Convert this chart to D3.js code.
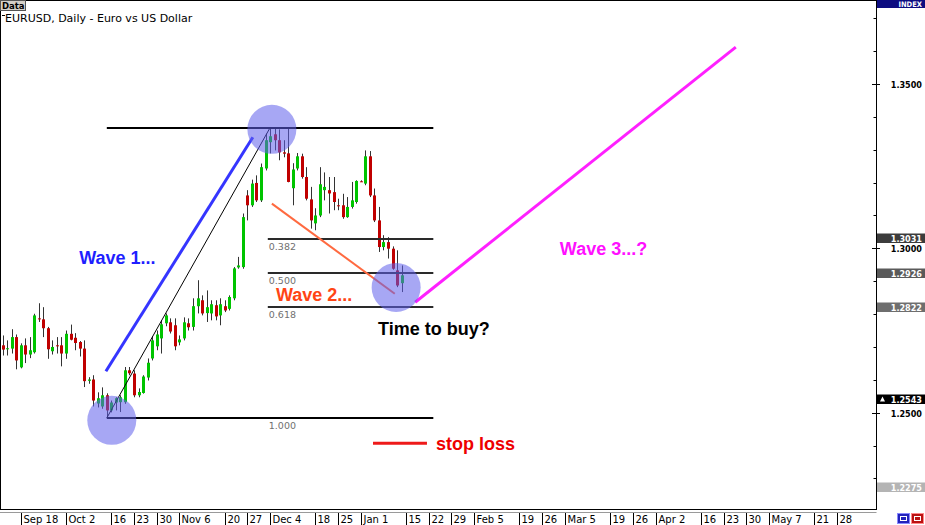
<!DOCTYPE html>
<html><head><meta charset="utf-8">
<script src="https://cdn.jsdelivr.net/npm/d3@7"></script>
<style>body{margin:0;background:#fff}svg{display:block}</style>
</head><body>
<svg id="c" width="925" height="525"></svg>
<script>
// ---------- data ----------
const startDate = "2006-09-12";
const totalSlots = 194; // weekdays shown on the time axis
const opens  = [1.2705,1.2693,1.2695,1.2730,1.2638,1.2705,1.2677,1.2684,1.2787,1.2784,1.2757,1.2687,1.2705,1.2705,1.2680,1.2740,1.2728,1.2715,1.2695,1.2597,1.2601,1.2528,1.2519,1.2553,1.2507,1.2531,1.2532,1.2532,1.2629,1.2619,1.2553,1.2560,1.2607,1.2665,1.2702,1.2726,1.2772,1.2775,1.2766,1.2714,1.2726,1.2772,1.2761,1.2824,1.2842,1.2803,1.2802,1.2827,1.2796,1.2824,1.2816,1.2848,1.2942,1.2943,1.3161,1.3131,1.3199,1.3146,1.3243,1.3323,1.3347,1.3329,1.3292,1.3289,1.3183,1.3243,1.3280,1.3217,1.3149,1.3076,1.3100,1.3177,1.3177,1.3171,1.3131,1.3131,1.3095,1.3126,1.3141,1.3204,1.3197,1.3280,1.3161,1.3085,1.3004,1.3019,1.2999,1.2933,1.2894];
const highs  = [1.2735,1.2720,1.2754,1.2738,1.2711,1.2726,1.2730,1.2801,1.2833,1.2821,1.2761,1.2720,1.2730,1.2730,1.2750,1.2768,1.2742,1.2718,1.2720,1.2608,1.2614,1.2562,1.2577,1.2559,1.2537,1.2547,1.2553,1.2639,1.2639,1.2629,1.2574,1.2614,1.2665,1.2732,1.2750,1.2781,1.2802,1.2787,1.2787,1.2735,1.2790,1.2787,1.2848,1.2903,1.2857,1.2872,1.2842,1.2842,1.2848,1.2842,1.2857,1.2943,1.2974,1.3106,1.3177,1.3209,1.3222,1.3258,1.3349,1.3367,1.3364,1.3362,1.3329,1.3365,1.3259,1.3290,1.3288,1.3247,1.3187,1.3122,1.3247,1.3231,1.3217,1.3217,1.3151,1.3166,1.3156,1.3202,1.3207,1.3207,1.3298,1.3296,1.3182,1.3126,1.3040,1.3034,1.3006,1.2994,1.2948];
const lows   = [1.2674,1.2674,1.2680,1.2632,1.2635,1.2651,1.2666,1.2680,1.2776,1.2730,1.2664,1.2677,1.2680,1.2641,1.2664,1.2720,1.2690,1.2671,1.2578,1.2588,1.2519,1.2516,1.2512,1.2484,1.2501,1.2507,1.2502,1.2527,1.2614,1.2547,1.2547,1.2558,1.2598,1.2659,1.2690,1.2680,1.2763,1.2741,1.2690,1.2705,1.2720,1.2750,1.2750,1.2802,1.2796,1.2776,1.2781,1.2781,1.2766,1.2806,1.2811,1.2842,1.2938,1.2938,1.3085,1.3126,1.3141,1.3141,1.3237,1.3289,1.3298,1.3268,1.3277,1.3201,1.3131,1.3237,1.3212,1.3146,1.3060,1.3055,1.3095,1.3146,1.3106,1.3116,1.3116,1.3090,1.3093,1.3121,1.3136,1.3202,1.3192,1.3156,1.3080,1.2989,1.2994,1.2969,1.2935,1.2882,1.2867];
const closes = [1.2692,1.2696,1.2730,1.2659,1.2705,1.2677,1.2690,1.2796,1.2785,1.2757,1.2693,1.2700,1.2703,1.2680,1.2740,1.2722,1.2712,1.2695,1.2596,1.2601,1.2537,1.2544,1.2553,1.2507,1.2531,1.2544,1.2547,1.2629,1.2620,1.2553,1.2563,1.2610,1.2652,1.2720,1.2738,1.2769,1.2796,1.2747,1.2702,1.2723,1.2775,1.2760,1.2824,1.2848,1.2802,1.2821,1.2830,1.2793,1.2830,1.2811,1.2852,1.2939,1.2948,1.3095,1.3131,1.3197,1.3146,1.3247,1.3329,1.3341,1.3329,1.3292,1.3288,1.3202,1.3240,1.3280,1.3217,1.3151,1.3085,1.3100,1.3195,1.3187,1.3167,1.3141,1.3129,1.3095,1.3126,1.3146,1.3205,1.3202,1.3280,1.3161,1.3085,1.3004,1.3019,1.2999,1.2938,1.2887,1.2918];

const timeTickDates  = ["2006-09-18","2006-10-02","2006-10-16","2006-10-23","2006-10-30","2006-11-06","2006-11-20","2006-11-27","2006-12-04","2006-12-18","2006-12-25","2007-01-01","2007-01-15","2007-01-22","2007-01-29","2007-02-05","2007-02-19","2007-02-26","2007-03-05","2007-03-19","2007-03-26","2007-04-02","2007-04-16","2007-04-23","2007-04-30","2007-05-07","2007-05-21","2007-05-28"];
const timeTickLabels = ["Sep 18","Oct 2","16","23","30","Nov 6","20","27","Dec 4","18","25","Jan 1","15","22","29","Feb 5","19","26","Mar 5","19","26","Apr 2","16","23","30","May 7","21","28"];

const priceMajor = [1.35, 1.30, 1.25];
const priceMajorLabels = ["1.3500","1.3000","1.2500"];
const priceMinor = [1.23,1.24,1.26,1.27,1.28,1.29,1.31,1.32,1.33,1.34,1.36,1.37];
const markerPrices = [1.3031, 1.2926, 1.2822, 1.2543, 1.2275];
const markerLabels = ["1.3031","1.2926","1.2822","1.2543","1.2275"];
const markerFills  = ["#3c3c3c","#5a5a5a","#6e6e6e","#000000","#b4b4b4"];

// Fibonacci retracement (wave 1 low / high)
const fibHigh = 1.3367, fibLow = 1.2484;
const fibLevels = [0.382, 0.5, 0.618];
const fibLabels = ["0.382","0.500","0.618"];
const fibRangeSlots = [23, 95];     // extent of 0/100% lines (slot index)
const fibLevelSlots = [58.5, 95];   // extent of retracement lines
const wave1Line = [[22.8, 1.2626],[55.2, 1.3338]];
const wave2Line = [[59.4, 1.3136],[86.5, 1.2862]];
const wave3Line = [[91.0, 1.2836],[161.7, 1.3612]];
const stopLine  = [[81.7, 1.2407],[93.6, 1.2407]];
const circles   = [[24.1, 1.2477],[59.4, 1.3362],[86.8, 1.2881]];
const notes = [
  {text:"Wave 1...",   slot:16.9,  price:1.2951, color:"#1f1fff"},
  {text:"Wave 2...",   slot:60.3,  price:1.2839, color:"#ff4514"},
  {text:"Time to buy?",slot:82.8,  price:1.2735, color:"#000000"},
  {text:"Wave 3...?",  slot:122.9, price:1.2979, color:"#ff10ff"},
  {text:"stop loss",   slot:95.6,  price:1.2388, color:"#ee0000"}
];

// ---------- calendar (weekday slots) ----------
const slots = [];
{
  const d = new Date(startDate + "T12:00:00Z");
  while (slots.length < totalSlots) {
    const wd = d.getUTCDay();
    if (wd !== 0 && wd !== 6) slots.push(d.toISOString().slice(0,10));
    d.setUTCDate(d.getUTCDate() + 1);
  }
}
const slotIndex = new Map(slots.map((s,i)=>[s,i]));

// ---------- layout ----------
const W = 925, H = 525;
const plotL = 0.5, plotR = 876.5, plotT = 0.5, plotB = 509.5;
const svg = d3.select("#c");
svg.append("rect").attr("width",W).attr("height",H).attr("fill","#fff");

const x = d3.scaleLinear().domain([0, totalSlots-1]).range([2.5, 2.5 + 4.535*(totalSlots-1)]);
const y = d3.scaleLinear().domain([1.25, 1.35]).range([412.7, 84]);

svg.append("defs").append("clipPath").attr("id","plot")
  .append("rect").attr("x",1).attr("y",1).attr("width",plotR-1.5).attr("height",plotB-1.5);
const g = svg.append("g").attr("clip-path","url(#plot)");

// candles
const candles = opens.map((o,i)=>({i, o, h:highs[i], l:lows[i], c:closes[i]}));
const cg = g.append("g");
cg.selectAll("line.wick").data(candles).join("line")
  .attr("class","wick")
  .attr("x1", d=>Math.round(x(d.i))+0.5).attr("x2", d=>Math.round(x(d.i))+0.5)
  .attr("y1", d=>y(d.h)).attr("y2", d=>y(d.l))
  .attr("stroke","#333").attr("stroke-width",1);
cg.selectAll("rect.body").data(candles).join("rect")
  .attr("class","body")
  .attr("x", d=>Math.round(x(d.i))-1).attr("width",3)
  .attr("y", d=>y(Math.max(d.o,d.c)))
  .attr("height", d=>Math.max(1, Math.abs(y(d.o)-y(d.c))))
  .attr("fill", d=>d.c>=d.o ? "#00c400" : "#c00000");

// fib range lines (0% and 100%)
const lineGen = d3.line().x(d=>x(d[0])).y(d=>y(d[1]));
[fibHigh, fibLow].forEach(p=>{
  g.append("line").attr("x1",x(fibRangeSlots[0])).attr("x2",x(fibRangeSlots[1]))
    .attr("y1",Math.round(y(p))).attr("y2",Math.round(y(p)))
    .attr("stroke","#000").attr("stroke-width",2);
});
fibLevels.forEach((lv,j)=>{
  const p = fibHigh - lv*(fibHigh-fibLow);
  g.append("line").attr("x1",x(fibLevelSlots[0])).attr("x2",x(fibLevelSlots[1]))
    .attr("y1",Math.round(y(p))).attr("y2",Math.round(y(p)))
    .attr("stroke","#2a2a2a").attr("stroke-width",1.8);
  g.append("text").attr("x",x(fibLevelSlots[0])+1).attr("y",Math.round(y(p))+10.5)
    .attr("font-family","DejaVu Sans").attr("font-size",9.5).attr("fill","#707070")
    .text(fibLabels[j]);
});
g.append("text").attr("x",x(fibLevelSlots[0])+1).attr("y",Math.round(y(fibLow))+11)
  .attr("font-family","DejaVu Sans").attr("font-size",9.5).attr("fill","#707070").text("1.000");

// thin trend line low -> high
g.append("line").attr("x1",x(23)).attr("y1",y(fibLow)).attr("x2",x(59)).attr("y2",y(fibHigh))
  .attr("stroke","#000").attr("stroke-width",1);

// wave lines
g.append("path").attr("d",lineGen(wave1Line)).attr("stroke","#3535ff").attr("stroke-width",3).attr("fill","none");
g.append("path").attr("d",lineGen(wave2Line)).attr("stroke","#ff6a40").attr("stroke-width",2).attr("fill","none");
g.append("path").attr("d",lineGen(wave3Line)).attr("stroke","#ff20ff").attr("stroke-width",3).attr("fill","none");
g.append("path").attr("d",lineGen(stopLine)).attr("stroke","#ee1a1a").attr("stroke-width",3).attr("fill","none");

// circles
g.selectAll("circle.hl").data(circles).join("circle").attr("class","hl")
  .attr("cx",d=>x(d[0])).attr("cy",d=>y(d[1])).attr("r",24.5)
  .attr("fill","rgb(95,95,235)").attr("fill-opacity",0.55);

// notes
g.selectAll("text.note").data(notes).join("text").attr("class","note")
  .attr("x",d=>x(d.slot)).attr("y",d=>y(d.price))
  .attr("font-family","Liberation Sans, Arial, sans-serif").attr("font-weight","bold")
  .attr("font-size",18).attr("fill",d=>d.color).text(d=>d.text);

// ---------- frame ----------
svg.append("rect").attr("x",plotL).attr("y",plotT).attr("width",plotR-plotL).attr("height",plotB-plotT)
  .attr("fill","none").attr("stroke","#000").attr("stroke-width",1);
svg.append("line").attr("x1",0).attr("x2",plotR).attr("y1",512.5).attr("y2",512.5)
  .attr("stroke","#9a9a9a").attr("stroke-width",1);

// right price axis
svg.selectAll("line.minor").data(priceMinor).join("line").attr("class","minor")
  .attr("x1",873.5).attr("x2",876.5)
  .attr("y1",d=>Math.round(y(d))+0.5).attr("y2",d=>Math.round(y(d))+0.5)
  .attr("stroke","#000");
svg.selectAll("line.major").data(priceMajor).join("line").attr("class","major")
  .attr("x1",872).attr("x2",880)
  .attr("y1",d=>Math.round(y(d))+0.5).attr("y2",d=>Math.round(y(d))+0.5)
  .attr("stroke","#000");
const axFont = "DejaVu Sans Condensed, DejaVu Sans";
svg.selectAll("text.plab").data(priceMajor).join("text").attr("class","plab")
  .attr("x",922).attr("y",d=>Math.round(y(d))+3.5).attr("text-anchor","end")
  .attr("font-family",axFont).attr("font-weight","bold").attr("font-size",9)
  .attr("fill","#000").text((d,i)=>priceMajorLabels[i]);
markerPrices.forEach((p,i)=>{
  const cy = Math.round(y(p));
  svg.append("rect").attr("x",877).attr("y",cy-4.5).attr("width",48).attr("height",9.5)
    .attr("fill",markerFills[i]);
  svg.append("text").attr("x",922).attr("y",cy+3.5).attr("text-anchor","end")
    .attr("font-family",axFont).attr("font-weight","bold").attr("font-size",9)
    .attr("fill","#fff").text(markerLabels[i]);
  if (markerLabels[i] === "1.2543") {
    svg.append("path").attr("d",`M${880},${cy+2.5} L${882.5},${cy-2.5} L${885},${cy+2.5} Z`).attr("fill","#fff");
  }
});
// INDEX tag
svg.append("rect").attr("x",877).attr("y",0).attr("width",48).attr("height",8).attr("fill","#0c0c80");
svg.append("text").attr("x",922).attr("y",6.8).attr("text-anchor","end")
  .attr("font-family",axFont).attr("font-weight","bold").attr("font-size",7.5)
  .attr("fill","#fff").text("INDEX");

// bottom time axis
const tt = timeTickDates.map((d,i)=>({i:slotIndex.get(d), label:timeTickLabels[i]}));
svg.selectAll("line.tt").data(tt).join("line").attr("class","tt")
  .attr("x1",d=>Math.round(x(d.i))+0.5).attr("x2",d=>Math.round(x(d.i))+0.5)
  .attr("y1",513).attr("y2",525).attr("stroke","#000");
svg.selectAll("text.tt").data(tt).join("text").attr("class","tt")
  .attr("x",d=>Math.round(x(d.i))+2.5).attr("y",523)
  .attr("font-family","DejaVu Sans").attr("font-size",10).attr("fill","#000")
  .text(d=>d.label);

// corner buttons
svg.append("rect").attr("x",897.5).attr("y",513.5).attr("width",12).attr("height",10).attr("fill","#2222bb").attr("stroke","#8888ff");
svg.append("rect").attr("x",900.5).attr("y",516.5).attr("width",6).attr("height",4).attr("fill","none").attr("stroke","#fff");
svg.append("rect").attr("x",911.5).attr("y",513.5).attr("width",12).attr("height",10).attr("fill","#bb1111").attr("stroke","#ff8888");
svg.append("rect").attr("x",914.5).attr("y",516.5).attr("width",6).attr("height",4).attr("fill","none").attr("stroke","#fff");

// title + Data tag
svg.append("rect").attr("x",0.5).attr("y",0.5).attr("width",25).attr("height",10).attr("fill","#d4d0c8").attr("stroke","#555");
svg.append("text").attr("x",2).attr("y",8.5).attr("font-family","DejaVu Sans").attr("font-weight","bold")
  .attr("font-size",8.5).attr("fill","#000").text("Data");
svg.append("line").attr("x1",2).attr("x2",5).attr("y1",15.5).attr("y2",15.5).attr("stroke","#000");
svg.append("text").attr("x",5).attr("y",22).attr("font-family","DejaVu Sans").attr("font-size",11)
  .attr("fill","#000").text("EURUSD, Daily - Euro vs US Dollar");
</script>
</body></html>
